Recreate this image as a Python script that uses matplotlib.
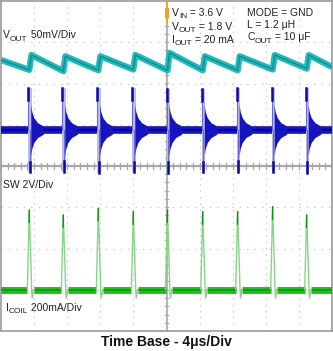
import numpy as np
import matplotlib
matplotlib.use('Agg')
import matplotlib.pyplot as plt

plt.rcParams['font.family'] = ['Liberation Sans', 'DejaVu Sans']

# ---------------- data (time in us, amplitude in screen divisions) ----------------
pulse_us = [3.42, 7.53, 11.76, 15.99, 20.12, 24.38, 28.60, 32.83, 36.94]

vout_start = 2.57
vout_end = 2.40
vout_low = [2.33, 2.30, 2.32, 2.34, 2.32, 2.32, 2.32, 2.34, 2.36]
vout_high = [2.69, 2.66, 2.66, 2.69, 2.74, 2.66, 2.66, 2.69, 2.69]

sw_base = 0.87
sw_high = [1.89, 1.89, 1.89, 1.89, 1.87, 1.87, 1.89, 1.89, 1.89]
sw_low = [-0.15, -0.14, -0.16, -0.15, -0.16, -0.15, -0.14, -0.15, -0.16]

icoil_base = -3.0
icoil_peak = [-1.07, -1.19, -1.03, -1.11, -1.07, -1.11, -1.11, -0.99, -1.19]
icoil_dip = -3.2

# pulse shape offsets (us relative to each pulse)
ic_rise, ic_fall, ic_dip_t, ic_back = -0.24, 0.29, 0.34, 0.55
sw_up, sw_down, sw_fill_end = -0.12, 0.06, 0.30
ring_t = [0.18, 0.3, 0.55, 1.0, 1.7]
ring_a = [0.62, 0.45, 0.3, 0.18, 0.1]
vo_rise = 0.25

# ---------------- figure ----------------
W, H = 333, 351
fig = plt.figure(figsize=(W / 100, H / 100), dpi=100)
ax = fig.add_axes([1 / W, 20 / H, 331 / W, 330 / H])
ax.set_xlim(0, 40)
ax.set_ylim(-4, 4)
ax.set_xticks([])
ax.set_yticks([])
for s in ax.spines.values():
    s.set_color('#9a9a9a')
    s.set_linewidth(1.2)

# grid
for xv in np.arange(4, 40, 4):
    if xv != 20:
        ax.axvline(xv, color='#c4c4c4', lw=0.8, ls=(0, (1.2, 4.5)), zorder=0)
for yv in np.arange(-3, 4, 1):
    if yv != 0:
        ax.axhline(yv, color='#c4c4c4', lw=0.8, ls=(0, (1.2, 5.5)), zorder=0)
# center axes with minor ticks
ax.axhline(0, color='#a8a8a8', lw=1.6, zorder=1)
ax.axvline(20, color='#a8a8a8', lw=1.2, zorder=1)
for xv in np.arange(0, 40.01, 0.8):
    ax.plot([xv, xv], [-0.08, 0.08], color='#a8a8a8', lw=0.9, zorder=1)
for yv in np.arange(-4, 4.01, 0.2):
    ax.plot([19.78, 20.22], [yv, yv], color='#a8a8a8', lw=0.9, zorder=1)

# ---------------- VOUT trace ----------------
vt = [0.0]
vv = [vout_start]
for p, lo, hi in zip(pulse_us, vout_low, vout_high):
    vt += [p, p + vo_rise]
    vv += [lo, hi]
vt.append(40.0)
vv.append(vout_end)
ax.plot(vt, vv, color='#22baba', lw=4.5, solid_capstyle='butt', zorder=3)
ax.plot(vt, vv, color='#137f86', lw=1.2, alpha=0.7, zorder=3)

# ---------------- SW trace ----------------
starts = [0.0] + [p + ring_t[-1] for p in pulse_us]
ends = [p + sw_up for p in pulse_us] + [40.0]
for a, b in zip(starts, ends):
    ax.plot([a, b], [sw_base, sw_base], color='#1414c8', lw=5.5, solid_capstyle='butt', zorder=3)
    ax.plot([a, b], [sw_base, sw_base], color='#06068a', lw=1.5, zorder=3)
for p, hi, lo in zip(pulse_us, sw_high, sw_low):
    ax.fill_between([p + sw_up, p + sw_fill_end], lo, hi, color='#bcbce9', lw=0, zorder=2)
    ax.plot([p + sw_up, p + sw_up], [sw_base, hi], color='#6a6ad4', lw=0.8, zorder=3)
    ax.plot([p + sw_down, p + sw_down], [lo, sw_base], color='#6a6ad4', lw=0.8, zorder=3)
    rt = [p + r for r in ring_t]
    up = [sw_base + a for a in ring_a]
    dn = [sw_base - a for a in ring_a]
    ax.fill_between(rt, dn, up, color='#1414c0', lw=0, zorder=3)
    ax.plot([p + sw_up] * 2, [hi - 0.3, hi], color='#0a0aa0', lw=1.8, zorder=4)
    ax.plot([p + sw_down] * 2, [lo, lo + 0.25], color='#0a0aa0', lw=1.8, zorder=4)

# ---------------- ICOIL trace ----------------
starts = [0.0] + [p + ic_back for p in pulse_us]
ends = [p + ic_rise for p in pulse_us] + [40.0]
for a, b in zip(starts, ends):
    ax.plot([a, b], [icoil_base, icoil_base], color='#25bb25', lw=5.0, solid_capstyle='butt', zorder=3)
    ax.plot([a, b], [icoil_base, icoil_base], color='#0b8f0b', lw=1.2, alpha=0.8, zorder=3)
for p, pk in zip(pulse_us, icoil_peak):
    ax.plot([p + ic_rise, p, p + ic_fall, p + ic_dip_t, p + ic_back],
            [icoil_base, pk, icoil_base, icoil_dip, icoil_base],
            color='#86d586', lw=1.0, zorder=3)
    ax.plot([p - 0.03, p], [pk - 0.3, pk], color='#0b8f0b', lw=1.0, zorder=4)

# trigger marker
ax.plot([20.02, 20.02], [3.45, 4.0], color='#f2a024', lw=1.2, zorder=5, clip_on=False)
ax.fill_between([19.78, 20.26], 3.6, 3.83, color='#f2a024', lw=0, zorder=5)

# ---------------- texts ----------------
tc = '#222222'
fs = 7.5
renderer = fig.canvas.get_renderer()


def rich_text(x, y, parts):
    """parts: list of (string, is_subscript); x, y in pixels from top-left (baseline)."""
    cx = x
    for s, sub in parts:
        size = fs * 0.8 if sub else fs
        yy = y + 2.2 if sub else y
        t = fig.text(cx / W, 1 - yy / H, s, fontsize=size, color=tc, va='baseline')
        cx += t.get_window_extent(renderer).width


rich_text(3, 38.5, [('V', 0), ('OUT', 1), (' 50mV/Div', 0)])
rich_text(172, 16, [('V', 0), ('IN', 1), (' = 3.6 V', 0)])
rich_text(172, 29.5, [('V', 0), ('OUT', 1), (' = 1.8 V', 0)])
rich_text(172, 43, [('I', 0), ('OUT', 1), (' = 20 mA', 0)])
rich_text(247, 16, [('MODE = GND', 0)])
rich_text(247, 27.5, [('L = 1.2 \u03bcH', 0)])
rich_text(247, 40.5, [('C', 0), ('OUT', 1), (' = 10 \u03bcF', 0)])
rich_text(3, 188, [('SW 2V/Div', 0)])
rich_text(6, 311, [('I', 0), ('COIL', 1), (' 200mA/Div', 0)])

fig.text(0.5, 1 - 342 / H, 'Time Base - 4\u03bcs/Div', fontsize=10, fontweight='bold',
         color='#111111', ha='center', va='center')

fig.savefig('out.png', dpi=100)
